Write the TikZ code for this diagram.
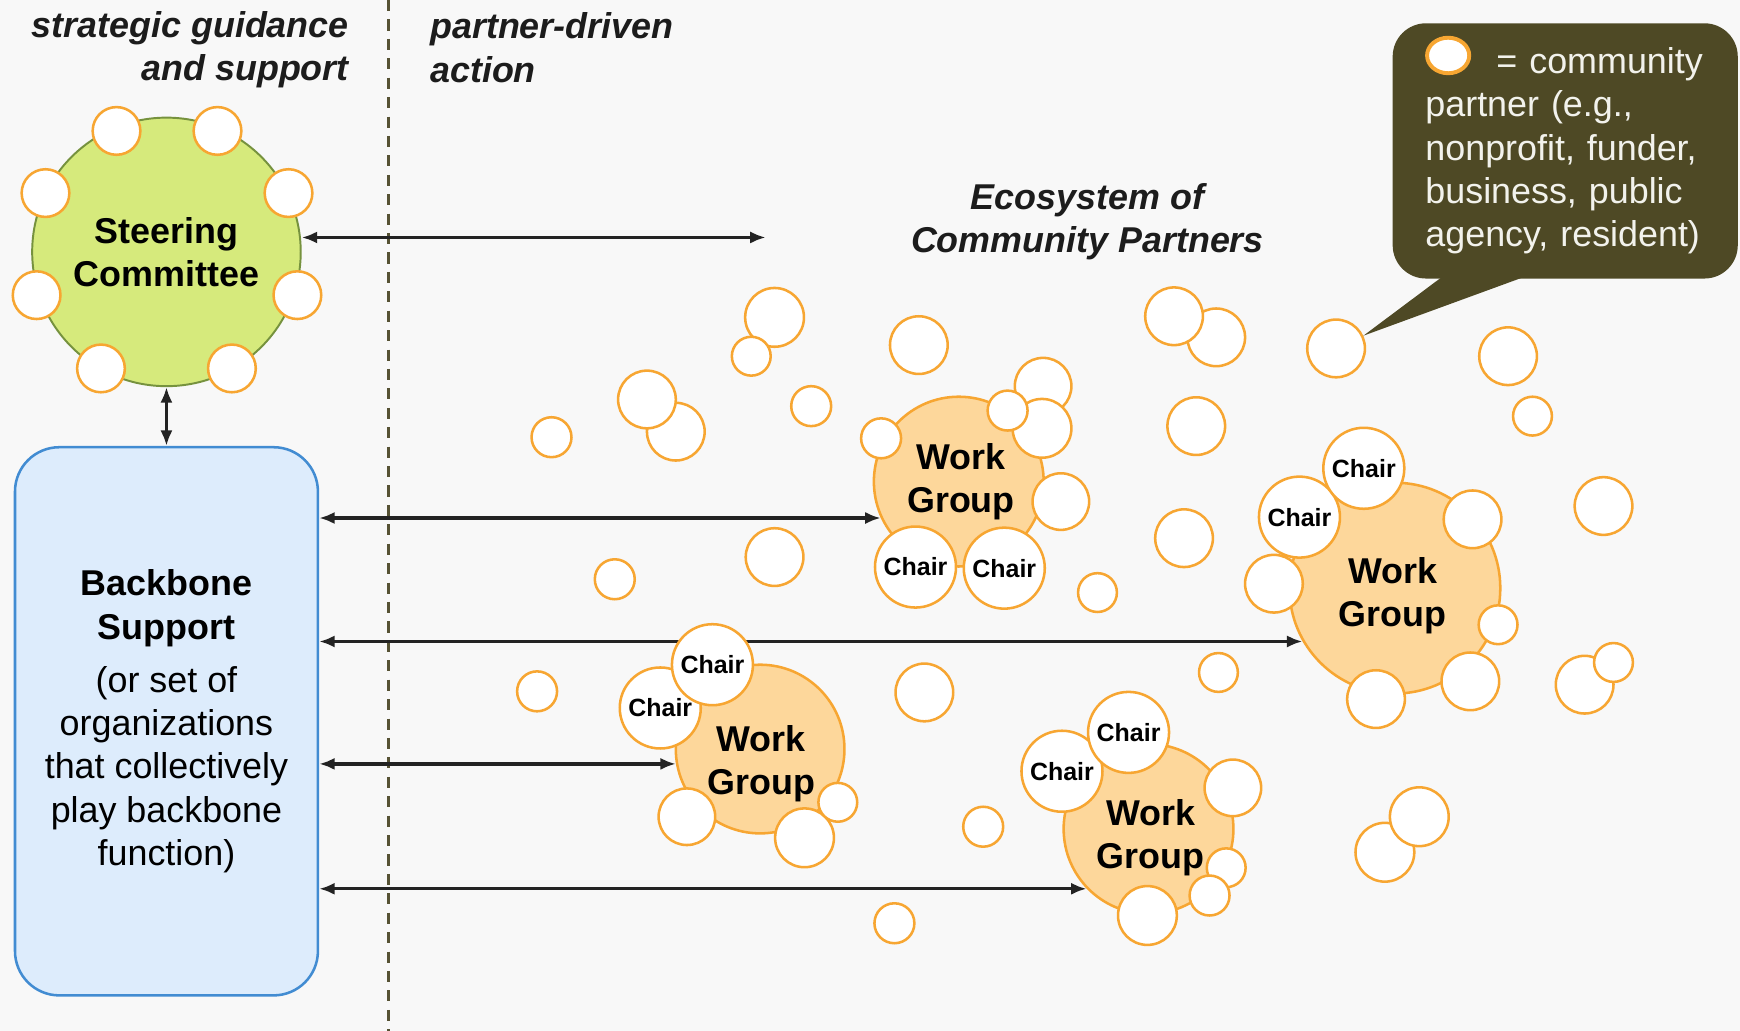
\documentclass[tikz,border=0pt]{standalone}
\usepackage{fontspec}
\setmainfont{Liberation Sans}
\usepackage{tikz}
\usetikzlibrary{arrows.meta,backgrounds,calc,shapes.geometric}
\definecolor{bgcol}{RGB}{248,248,248}
\definecolor{partnerline}{RGB}{247,166,50}
\definecolor{wgfill}{RGB}{253,215,155}
\definecolor{scfill}{RGB}{214,234,124}
\definecolor{scline}{RGB}{118,146,62}
\definecolor{bbfill}{RGB}{221,236,252}
\definecolor{bbline}{RGB}{66,140,210}
\definecolor{legendfill}{RGB}{78,73,37}
\definecolor{legendtext}{RGB}{242,242,236}
\definecolor{divider}{RGB}{86,82,52}
\definecolor{arrowcol}{RGB}{35,35,35}
\definecolor{headcol}{RGB}{28,28,28}

\begin{document}
\begin{tikzpicture}[x=0.1mm,y=-0.1mm,
every node/.style={font=\fontsize{9.2}{11.1}\selectfont},
partner/.style={circle,draw=partnerline,fill=white,line width=0.65pt,inner sep=0pt,minimum size=#1},
partner/.default=5.2mm,
chair/.style={partner=7.3mm,font=\fontsize{6.4}{7.6}\selectfont\bfseries},
workgroup/.style={circle,draw=partnerline,fill=wgfill,line width=0.65pt,inner sep=0pt,minimum size=#1},
wgtitle/.style={inner sep=0pt,align=center,font=\fontsize{9.2}{11.1}\selectfont\bfseries},
link/.style={{Latex[length=1.4mm,width=1.1mm]}-{Latex[length=1.4mm,width=1.1mm]},draw=arrowcol,line width=0.85pt},
heading/.style={inner sep=0pt,text=headcol,font=\fontsize{9.2}{11.1}\selectfont\bfseries\itshape}]

\begin{scope}[on background layer]
\path[use as bounding box,fill=bgcol] (0,0) rectangle (1568,929);
\draw[divider,line width=0.65pt,dash pattern=on 1mm off 0.75mm] (350,0) -- (350,929);
\end{scope}

\node[heading,anchor=east,align=right] (guidance) at (315,45) {strategic guidance\\and support};
\node[heading,anchor=west,align=left] (action) at (387,43) {partner-driven\\action};
\node[heading,align=center] (ecosystem) at (980,200) {Ecosystem of\\Community Partners};

\node[circle,draw=scline,fill=scfill,line width=0.5pt,minimum size=24.2mm,inner sep=0pt,align=center,font=\fontsize{9.2}{11.1}\selectfont\bfseries] (steering) at (150,227) {Steering\\Committee};
\foreach \x/\y [count=\i] in {105/118,196/118,41/174,260/174,33/266,268/266,91/332,209/332}
  \node[partner=4.3mm] (member\i) at (\x,\y) {};

\node[draw=bbline,fill=bbfill,line width=0.65pt,rounded corners=4mm,minimum width=27.3mm,minimum height=49.4mm,align=center] (backbone) at (150,650) {\textbf{Backbone}\\\textbf{Support}\\[0.9mm](or set of\\organizations\\that collectively\\play backbone\\function)};

\foreach \x/\y/\d [count=\i] in {698/286/5.3,677/321/3.5,828/311/5.2,609/389/5.2,583/360/5.2,497/394/3.6,731/366/3.6,1096/304/5.2,1058/285/5.2,1359/321/5.2,1381/375/3.5,1078/384/5.2,698/502/5.2,554/522/3.6,1067/485/5.2,989/534/3.5,1445/456/5.2,484/623/3.6,833/624/5.2,1098/606/3.5,1428/617/5.2,1454/597/3.5,886/745/3.6,806/832/3.6,1248/768/5.3,1279/736/5.3}
  \node[partner=\d mm] (partner\i) at (\x,\y) {};
\node[partner] (target) at (1204,314) {};

\node[workgroup=15.3mm] (group1) at (864,434) {};
\node[wgtitle] (title1) at (866,434) {Work\\Group};
\foreach \x/\y/\d [count=\i] in {956/452/5.1,794/395/3.6,940/348/5.1,939/386/5.3,908/370/3.6}
  \node[partner=\d mm] (around1-\i) at (\x,\y) {};
\node[chair] (chair1a) at (825,511) {Chair};
\node[chair] (chair1b) at (905,512) {Chair};

\node[workgroup=19mm] (group2) at (1257,530) {};
\node[wgtitle] (title2) at (1255,537) {Work\\Group};
\foreach \x/\y/\d [count=\i] in {1327/468/5.2,1148/526/5.2,1350/563/3.5,1325/614/5.2,1240/630/5.2}
  \node[partner=\d mm] (around2-\i) at (\x,\y) {};
\node[chair] (chair2a) at (1171,466) {Chair};
\node[chair] (chair2b) at (1229,422) {Chair};

\node[workgroup=15.2mm] (group3) at (685,675) {};
\node[wgtitle] (title3) at (686,688) {Work\\Group};
\foreach \x/\y/\d [count=\i] in {619/736/5.1,725/755/5.3,755/723/3.5}
  \node[partner=\d mm] (around3-\i) at (\x,\y) {};
\node[chair] (chair3a) at (595,638) {Chair};
\node[chair] (chair3b) at (642,599) {Chair};

\node[workgroup=15.3mm] (group4) at (1035,747) {};
\node[wgtitle] (title4) at (1037,755) {Work\\Group};
\foreach \x/\y/\d [count=\i] in {1111/710/5.1,1105/782/3.5,1090/807/3.6,1034/825/5.3}
  \node[partner=\d mm] (around4-\i) at (\x,\y) {};
\node[chair] (chair4a) at (957,695) {Chair};
\node[chair] (chair4b) at (1017,660) {Chair};

\node[fill=legendfill,rounded corners=3mm,minimum width=31.1mm,minimum height=23mm,text width=25.2mm,inner sep=0pt,align=left,text=legendtext] (legend) at (1410.5,136) {\hspace*{6.4mm}= community\\partner (e.g.,\\nonprofit, funder,\\business, public\\agency, resident)};
\fill[legendfill] ($(legend.south west)+(49,-5)$) -- (target.25) -- ($(legend.south west)+(127,-5)$) -- cycle;
\node[ellipse,draw=partnerline,fill=white,line width=1pt,minimum width=3.8mm,minimum height=3.2mm,inner sep=0pt] (legendkey) at (1305,50) {};

\coordinate (reach) at (690,214);
\begin{scope}[on background layer]
\draw[link] (steering.east |- reach) -- (reach);
\draw[link] (steering.south) -- (backbone.north);
\draw[link] (backbone.east |- group1.205) -- (group1.205);
\draw[link] (backbone.east |- group2.210) -- (group2.210);
\draw[link] (backbone.east |- group3.190) -- (group3.190);
\draw[link] (backbone.east |- group4.224) -- (group4.224);
\end{scope}
\end{tikzpicture}
\end{document}
